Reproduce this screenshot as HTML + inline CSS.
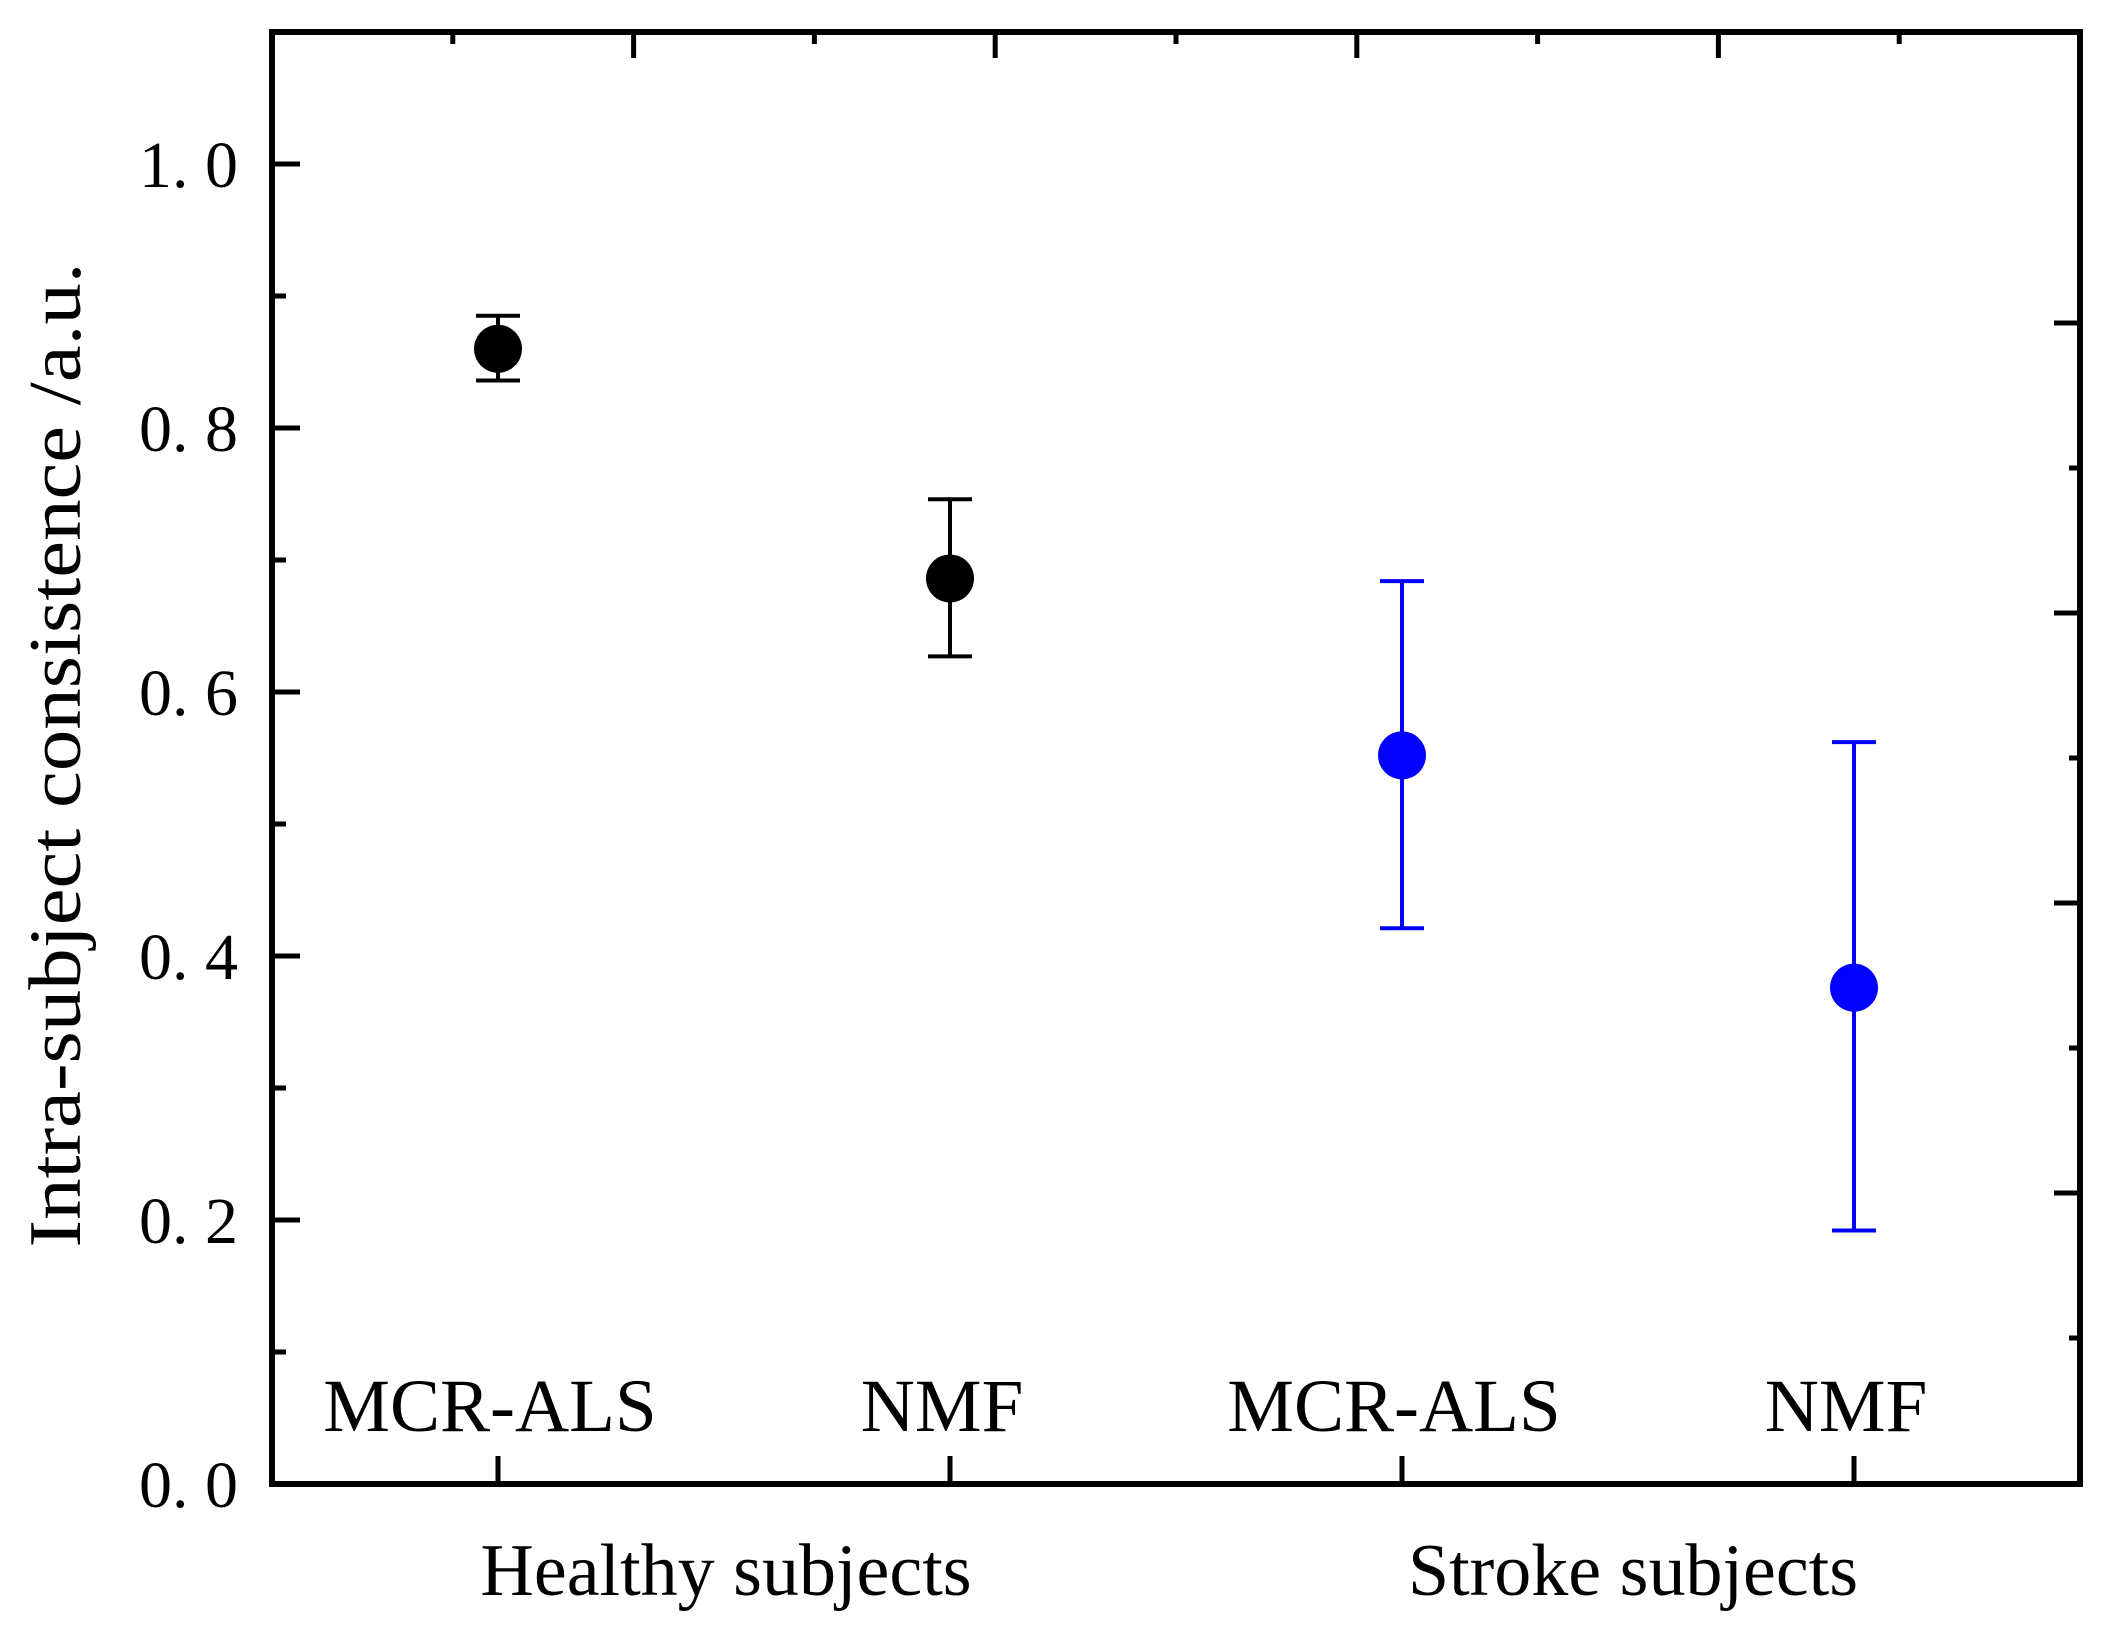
<!DOCTYPE html>
<html>
<head>
<meta charset="utf-8">
<style>
  html,body{margin:0;padding:0;background:#fff;}
  svg{display:block;}
  text{font-family:"Liberation Serif","DejaVu Serif",serif;fill:#000;}
</style>
</head>
<body>
<svg id="chart" width="2110" height="1637" viewBox="0 0 2110 1637" xmlns="http://www.w3.org/2000/svg">
  <g id="marks"></g>
  <g id="axes"></g>
  <text transform="translate(80,755) rotate(-90)" text-anchor="middle" font-size="74" textLength="985" lengthAdjust="spacingAndGlyphs">Intra-subject consistence /a.u.</text>
  <text x="726" y="1595" text-anchor="middle" font-size="74">Healthy subjects</text>
  <text x="1633" y="1595" text-anchor="middle" font-size="74">Stroke subjects</text>
</svg>
<script>
const categories = ["MCR-ALS", "NMF", "MCR-ALS", "NMF"];
const means = [0.860, 0.686, 0.552, 0.376];
const upper = [0.885, 0.746, 0.684, 0.562];
const lower = [0.836, 0.627, 0.421, 0.192];
const colors = ["#000000", "#000000", "#0000ff", "#0000ff"];
const yTickLabels = ["0. 0", "0. 2", "0. 4", "0. 6", "0. 8", "1. 0"];
const yTickValues = [0, 0.2, 0.4, 0.6, 0.8, 1.0];

const NS = "http://www.w3.org/2000/svg";
const L = 272, R = 2080, T = 32, B = 1484;
const yMin = 0, yMax = 1.1, xMin = 0.5, xMax = 4.5;
function sx(v){ return L + (v - xMin) / (xMax - xMin) * (R - L); }
function sy(v){ return B - (v - yMin) / (yMax - yMin) * (B - T); }
function mk(tag, attrs, parent){
  const e = document.createElementNS(NS, tag);
  for (const k in attrs) e.setAttribute(k, attrs[k]);
  parent.appendChild(e);
  return e;
}
const axes = document.getElementById('axes');
const marks = document.getElementById('marks');

// frame
const frame = mk('rect', {x:L, y:T, width:R-L, height:B-T, fill:'none', stroke:'#000', 'stroke-width':6}, axes);



// left y ticks (major + minor)
for (let i = 0; i <= 10; i++) {
  const v = i * 0.1;
  const major = i % 2 === 0;
  const t = mk('line', {x1:L, x2:L + (major ? 28 : 14), y1:sy(v), y2:sy(v), stroke:'#000', 'stroke-width':5}, axes);
  
  
}
yTickValues.forEach((v, i) => {
  const tx = mk('text', {x:L - 34, y:sy(v) + 23, 'text-anchor':'end', 'font-size':66}, axes);
  tx.textContent = yTickLabels[i];
  
  
});

// right ticks (secondary scale, decorative)
for (let i = 0; i < 8; i++) {
  const y = 323 + i * 145;
  const major = i % 2 === 0;
  const t = mk('line', {x1:R, x2:R - (major ? 26 : 11), y1:y, y2:y, stroke:'#000', 'stroke-width':5}, axes);
  
  
}
// top ticks
for (let i = 0; i < 9; i++) {
  const v = 0.9 + i * 0.4;
  const major = i % 2 === 1;
  const t = mk('line', {x1:sx(v), x2:sx(v), y1:T, y2:T + (major ? 26 : 12), stroke:'#000', 'stroke-width':5}, axes);
  
  
}

// categories: bottom ticks and labels
categories.forEach((c, i) => {
  const x = sx(i + 1);
  const t = mk('line', {x1:x, x2:x, y1:B, y2:B - 28, stroke:'#000', 'stroke-width':5}, axes);
  
  
  const tx = mk('text', {x:x - 8, y:1431, 'text-anchor':'middle', 'font-size':75}, axes);
  tx.textContent = c;
  
  
});

// error bars + markers
means.forEach((m, i) => {
  const x = sx(i + 1), col = colors[i];
  const g = mk('g', {}, marks);
  
  
  const v = mk('line', {x1:x, x2:x, y1:sy(upper[i]), y2:sy(lower[i]), stroke:col, 'stroke-width':4}, g);
  
  
  const c1 = mk('line', {x1:x - 22, x2:x + 22, y1:sy(upper[i]), y2:sy(upper[i]), stroke:col, 'stroke-width':4}, g);
  
  
  const c2 = mk('line', {x1:x - 22, x2:x + 22, y1:sy(lower[i]), y2:sy(lower[i]), stroke:col, 'stroke-width':4}, g);
  
  
  const p = mk('circle', {cx:x, cy:sy(m), r:24, fill:col}, g);
  
  
});
</script>
</body>
</html>
